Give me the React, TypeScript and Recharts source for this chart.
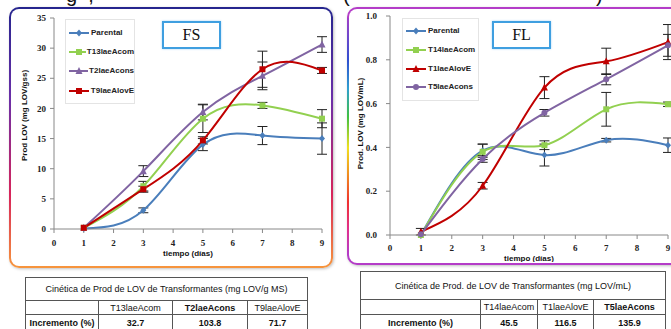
import React from "react";
import { LineChart, Line, XAxis, YAxis, ErrorBar, Legend, Label } from "recharts";

// days sampled
const days = [1, 3, 5, 7, 9];
const xTicks = [0, 1, 2, 3, 4, 5, 6, 7, 8, 9];
const fsTicks = [0, 5, 10, 15, 20, 25, 30, 35];
const flTicks = [0, 0.2, 0.4, 0.6, 0.8, 1.0];

// FS (mg LOV/g ss)
const fsParental = [0.1, 3.1, 14.0, 15.5, 15.0];
const fsParentalErr = [0, 0.4, 1.0, 1.5, 2.6];
const fsT13 = [0.2, 7.1, 18.3, 20.5, 18.3];
const fsT13Err = [0, 0.8, 2.3, 0.5, 1.5];
const fsT2 = [0.2, 9.6, 19.4, 25.4, 30.6];
const fsT2Err = [0, 0.9, 1.3, 2.3, 1.3];
const fsT9 = [0.2, 6.6, 14.7, 26.5, 26.3];
const fsT9Err = [0, 0.5, 0.6, 3.0, 0.5];

// FL (mg LOV/mL)
const flParental = [0.0, 0.385, 0.365, 0.433, 0.41];
const flParentalErr = [0, 0.03, 0.05, 0.008, 0.033];
const flT14 = [0.0, 0.38, 0.41, 0.574, 0.597];
const flT14Err = [0, 0.035, 0.02, 0.077, 0.01];
const flT1 = [0.015, 0.225, 0.673, 0.793, 0.881];
const flT1Err = [0.015, 0.015, 0.05, 0.06, 0.08];
const flT5 = [0.003, 0.347, 0.558, 0.711, 0.866];
const flT5Err = [0, 0.015, 0.015, 0.025, 0.05];

// table values
const fsTableTitle = "Cinética de Prod de LOV de Transformantes (mg LOV/g MS)";
const fsTableCols = ["T13laeAcom", "T2laeAcons", "T9laeAlovE"];
const fsTableVals = ["32.7", "103.8", "71.7"];
const flTableTitle = "Cinética de Prod. de LOV de Transformantes (mg LOV/mL)";
const flTableCols = ["T14laeAcom", "T1laeAlovE", "T5laeAcons"];
const flTableVals = ["45.5", "116.5", "135.9"];

const BLUE = "#4a7ebb";
const GREEN = "#92d050";
const PURPLE = "#8064a2";
const RED = "#c00000";

const fsData = days.map((d, i) => ({
  day: d,
  parental: fsParental[i], parentalErr: fsParentalErr[i],
  t13: fsT13[i], t13Err: fsT13Err[i],
  t2: fsT2[i], t2Err: fsT2Err[i],
  t9: fsT9[i], t9Err: fsT9Err[i],
}));

const flData = days.map((d, i) => ({
  day: d,
  parental: flParental[i], parentalErr: flParentalErr[i],
  t14: flT14[i], t14Err: flT14Err[i],
  t1: flT1[i], t1Err: flT1Err[i],
  t5: flT5[i], t5Err: flT5Err[i],
}));

type Series = { key: string; name: string; color: string; shape: string };

const fsSeries: Series[] = [
  { key: "parental", name: "Parental", color: BLUE, shape: "diamond" },
  { key: "t13", name: "T13laeAcom", color: GREEN, shape: "square" },
  { key: "t2", name: "T2laeAcons", color: PURPLE, shape: "triangle" },
  { key: "t9", name: "T9laeAlovE", color: RED, shape: "square" },
];

const flSeries: Series[] = [
  { key: "parental", name: "Parental", color: BLUE, shape: "diamond" },
  { key: "t14", name: "T14laeAcom", color: GREEN, shape: "square" },
  { key: "t1", name: "T1laeAlovE", color: RED, shape: "triangle" },
  { key: "t5", name: "T5laeAcons", color: PURPLE, shape: "circle" },
];

const marker = (shape: string, cx: number, cy: number, color: string, key?: string) => {
  const s = 3;
  if (shape === "diamond")
    return <path key={key} d={`M${cx},${cy - s - 0.5} L${cx + s},${cy} L${cx},${cy + s + 0.5} L${cx - s},${cy} Z`} fill={color} />;
  if (shape === "square")
    return <rect key={key} x={cx - s} y={cy - s} width={2 * s} height={2 * s} fill={color} />;
  if (shape === "triangle")
    return <path key={key} d={`M${cx},${cy - s - 1} L${cx + s + 0.5},${cy + s} L${cx - s - 0.5},${cy + s} Z`} fill={color} />;
  return <circle key={key} cx={cx} cy={cy} r={s} fill={color} />;
};

const tickFont = { fontFamily: "Liberation Serif", fontWeight: 700, fontSize: 9, fill: "#222" };
const labelFont = { fontFamily: "Liberation Sans", fontWeight: 700, fontSize: 8, fill: "#111" };

const makeLegend = (series: Series[], w: number, gap: number) => () => (
  <div style={{ border: "1px solid #e4e4e4", width: w, padding: "3px 0 3px 2px", background: "#fff" }}>
    {series.map((s) => (
      <div key={s.key} style={{ display: "flex", alignItems: "center", height: gap }}>
        <svg width={22} height={10} style={{ marginRight: 1 }}>
          <line x1={1} y1={5} x2={21} y2={5} stroke={s.color} strokeWidth={2} />
          {marker(s.shape, 11, 5, s.color)}
        </svg>
        <span style={{ fontFamily: "Liberation Sans", fontWeight: 700, fontSize: 8, color: "#222", lineHeight: "10px" }}>{s.name}</span>
      </div>
    ))}
  </div>
);

const yTitle = (text: string, dx: number, dy: number) => (props: any) => {
  const vb = props.viewBox;
  const x = vb.x + vb.width / 2 + dx;
  const y = vb.y + vb.height / 2 + dy;
  return (
    <text x={x} y={y} transform={`rotate(-90, ${x}, ${y})`} textAnchor="middle" dominantBaseline="middle" {...labelFont}>
      {text}
    </text>
  );
};

const Panel = ({
  data, series, yTicks, yDomain, yFmt, width, height, margin, yWidth, xHeight, yTickMargin, xTickMargin, yLabel, yDx, yDy, legendPos, legendW, legendGap,
}: any) => (
  <LineChart width={width} height={height} data={data} margin={margin}>
    <XAxis
      dataKey="day"
      type="number"
      domain={[0, 9]}
      ticks={xTicks}
      interval={0}
      height={xHeight}
      tick={tickFont}
      tickSize={4}
      tickMargin={xTickMargin}
      stroke="#888"
    >
      <Label value="tiempo (días)" position="insideBottom" offset={-2} {...labelFont} />
    </XAxis>
    <YAxis
      type="number"
      domain={yDomain}
      ticks={yTicks}
      interval={0}
      width={yWidth}
      tick={tickFont}
      tickSize={4}
      tickMargin={yTickMargin}
      tickFormatter={yFmt}
      stroke="#888"
    >
      <Label content={yTitle(yLabel, yDx, yDy)} />
    </YAxis>
    <Legend
      layout="vertical"
      verticalAlign="middle"
      align="center"
      wrapperStyle={{ top: legendPos[1], left: legendPos[0], width: "auto", bottom: "auto", right: "auto" }}
      content={makeLegend(series, legendW, legendGap)}
    />
    {series.map((s: Series) => (
      <Line
        key={s.key}
        type="natural"
        dataKey={s.key}
        name={s.name}
        stroke={s.color}
        strokeWidth={2}
        dot={(p: any) => marker(s.shape, p.cx, p.cy, s.color, `${s.key}-${p.index}`)}
        activeDot={false}
        isAnimationActive={false}
      >
        <ErrorBar dataKey={`${s.key}Err`} width={5} strokeWidth={1} stroke="#222" direction="y" />
      </Line>
    ))}
  </LineChart>
);

const cell: React.CSSProperties = {
  border: "1px solid #555",
  padding: 0,
  textAlign: "center",
  fontFamily: "Liberation Sans",
  fontSize: 9,
  color: "#111",
  whiteSpace: "nowrap",
  overflow: "hidden",
};

const ResultTable = ({ title, cols, vals, boldCol, left, top, width, colW, rowH }: any) => (
  <table
    style={{
      position: "absolute",
      left,
      top,
      width,
      borderCollapse: "collapse",
      tableLayout: "fixed",
      background: "#fff",
    }}
  >
    <colgroup>
      {colW.map((w: number, i: number) => (
        <col key={i} style={{ width: w }} />
      ))}
    </colgroup>
    <tbody>
      <tr style={{ height: rowH[0] }}>
        <td colSpan={4} style={cell}>{title}</td>
      </tr>
      <tr style={{ height: rowH[1] }}>
        <td style={cell}></td>
        {cols.map((c: string, i: number) => (
          <td key={c} style={{ ...cell, fontWeight: i === boldCol ? 700 : 400 }}>{c}</td>
        ))}
      </tr>
      <tr style={{ height: rowH[2] }}>
        <td style={{ ...cell, fontWeight: 700 }}>Incremento (%)</td>
        {vals.map((v: string) => (
          <td key={v} style={{ ...cell, fontWeight: 700 }}>{v}</td>
        ))}
      </tr>
    </tbody>
  </table>
);

const tagBox = (left: number, top: number): React.CSSProperties => ({
  position: "absolute",
  left,
  top,
  width: 55,
  height: 24,
  border: "2px solid #3f9fe0",
  boxShadow: "0 0 2px #a8d4f4",
  background: "#fff",
  fontFamily: "Liberation Serif",
  fontSize: 16,
  lineHeight: "24px",
  textAlign: "center",
  color: "#111",
});

export default function App() {
  return (
    <div style={{ position: "fixed", left: 0, top: 0, width: 671, height: 329, overflow: "hidden", background: "#fff" }}>
      {/* cut text from above */}
      <div style={{ position: "absolute", left: 66, top: -16, fontFamily: "Liberation Sans", fontSize: 20, color: "#111", whiteSpace: "pre" }}>g  ,</div>
      <div style={{ position: "absolute", left: 343, top: -16, fontFamily: "Liberation Sans", fontSize: 20, color: "#111" }}>(</div>
      <div style={{ position: "absolute", left: 596, top: -16, fontFamily: "Liberation Sans", fontSize: 20, color: "#111" }}>)</div>

      {/* frames */}
      <div
        style={{
          position: "absolute", left: 9, top: 7, width: 324, height: 261, borderRadius: 10, padding: 2, boxSizing: "border-box",
          background: "linear-gradient(180deg, #25258e 0%, #6a2fa8 35%, #d8245a 72%, #f7963c 100%)",
          boxShadow: "1px 1px 3px rgba(0,0,0,0.25)",
        }}
      >
        <div style={{ width: "100%", height: "100%", background: "#fff", borderRadius: 8 }} />
      </div>
      <div
        style={{
          position: "absolute", left: 347, top: 7, width: 334, height: 258, borderRadius: 10, padding: 2, boxSizing: "border-box",
          background: "#b43cc8", boxShadow: "1px 1px 3px rgba(0,0,0,0.25)",
        }}
      >
        <div style={{ width: "100%", height: "100%", background: "#fff", borderRadius: 8 }} />
      </div>
      <div
        style={{
          position: "absolute", left: 347, top: 18, width: 2, height: 236,
          background: "linear-gradient(180deg, #a040c8 0%, #3050d0 18%, #30a0d0 30%, #40c040 42%, #f0e020 55%, #f09020 66%, #f03030 78%, #e03090 90%, #b43cc8 100%)",
        }}
      />

      <div style={{ position: "absolute", left: 0, top: 0 }}>
        <Panel
          data={fsData}
          series={fsSeries}
          yTicks={fsTicks}
          yDomain={[0, 35]}
          yFmt={(v: number) => String(v)}
          width={340}
          height={260}
          margin={{ top: 18, right: 18, bottom: 6, left: 0 }}
          yWidth={54}
          xHeight={25}
          yTickMargin={4}
          xTickMargin={7}
          yLabel="Prod LOV (mg LOV/gss)"
          yDx={-2}
          yDy={-8}
          legendPos={[65, 19]}
          legendW={66}
          legendGap={19.3}
        />
      </div>
      <div style={{ position: "absolute", left: 340, top: 0 }}>
        <Panel
          data={flData}
          series={flSeries}
          yTicks={flTicks}
          yDomain={[0, 1]}
          yFmt={(v: number) => v.toFixed(1)}
          width={331}
          height={262}
          margin={{ top: 16, right: 3, bottom: 3, left: 0 }}
          yWidth={50}
          xHeight={24}
          yTickMargin={9}
          xTickMargin={6}
          yLabel="Prod. LOV (mg LOV/mL)"
          yDx={-4}
          yDy={-2}
          legendPos={[62, 18]}
          legendW={73}
          legendGap={18.7}
        />
      </div>

      <div style={tagBox(162, 21)}>FS</div>
      <div style={tagBox(492, 21)}>FL</div>

      <ResultTable
        title={fsTableTitle}
        cols={fsTableCols}
        vals={fsTableVals}
        boldCol={1}
        left={25}
        top={277}
        width={282}
        colW={[73, 74, 75, 60]}
        rowH={[23, 14, 16]}
      />
      <ResultTable
        title={flTableTitle}
        cols={flTableCols}
        vals={flTableVals}
        boldCol={2}
        left={360}
        top={271}
        width={305}
        colW={[120, 57, 56, 72]}
        rowH={[28, 15, 16]}
      />
    </div>
  );
}
